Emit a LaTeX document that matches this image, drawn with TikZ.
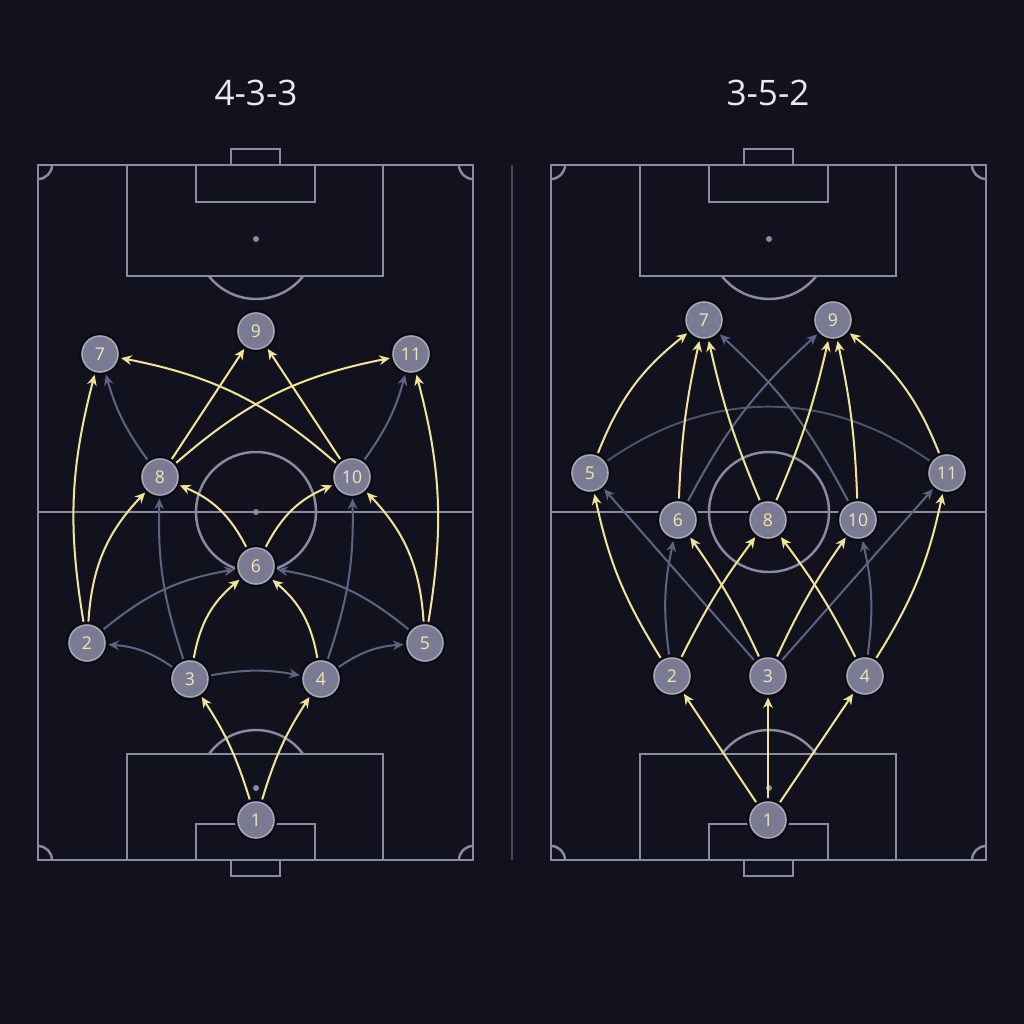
\documentclass[tikz,border=0pt]{standalone}
\usepackage{fontspec}
\setmainfont{Open Sans}
\usetikzlibrary{arrows.meta}

\definecolor{bgdark}{HTML}{12121F}
\definecolor{pitchgray}{HTML}{8A8AA3}
\definecolor{dividergray}{HTML}{4A4A5E}
\definecolor{runyellow}{HTML}{F1E39A}
\definecolor{linkgray}{HTML}{5F6280}
\definecolor{playerfill}{HTML}{7A7B92}
\definecolor{playerring}{HTML}{A9A7B3}
\definecolor{playershadow}{HTML}{0A0A14}
\definecolor{playertext}{HTML}{F2E7B8}
\definecolor{titlewhite}{HTML}{E8E8EE}

\tikzset{
    player/.style={circle, minimum size=0.72cm, inner sep=0pt, outer sep=2pt,
        fill=playerfill, draw=playerring, line width=0.9pt, text=playertext,
        font=\fontsize{10}{12}\selectfont,
        preaction={draw=playershadow, line width=3.5pt}},
    run/.style={-{Stealth[length=6pt,width=5.5pt]}, draw=runyellow, line width=1.15pt},
    link/.style={-{Stealth[length=6pt,width=5.5pt]}, draw=linkgray, line width=1.15pt},
    plainlink/.style={draw=linkgray!80!bgdark, line width=1.1pt},
    pitchline/.style={draw=pitchgray, line width=1.4pt},
    divider/.style={draw=dividergray, line width=0.8pt},
    formation/.style={text=titlewhite, font=\fontsize{20}{24}\selectfont},
}

% one pitch, shifted by #1
\newcommand{\drawpitch}[1]{%
    \begin{scope}[shift={(#1,0)}]
        \draw[pitchline] (38,165) rectangle (473,860);
        \draw[pitchline] (38,512) -- (473,512);
        \draw[pitchline] (256,512) circle[radius=60];
        \fill[pitchgray] (256,512) circle[radius=3];
        % top end
        \draw[pitchline] (127,165) rectangle (383,276);
        \draw[pitchline] (196,165) rectangle (315,202);
        \draw[pitchline] (231,149) rectangle (280,165);
        \fill[pitchgray] (256,239) circle[radius=3];
        \draw[pitchline] (256,239) ++(38:60) arc[start angle=38, end angle=142, radius=60];
        % bottom end
        \draw[pitchline] (127,754) rectangle (383,860);
        \draw[pitchline] (196,824) rectangle (315,860);
        \draw[pitchline] (231,860) rectangle (280,876);
        \fill[pitchgray] (256,788) circle[radius=3];
        \draw[pitchline] (256,788) ++(-36:58) arc[start angle=-36, end angle=-144, radius=58];
        % corners
        \draw[pitchline] (38,165) ++(0:14) arc[start angle=0, end angle=90, radius=14];
        \draw[pitchline] (473,165) ++(90:14) arc[start angle=90, end angle=180, radius=14];
        \draw[pitchline] (38,860) ++(-90:14) arc[start angle=-90, end angle=0, radius=14];
        \draw[pitchline] (473,860) ++(180:14) arc[start angle=180, end angle=270, radius=14];
    \end{scope}}

\begin{document}
\begin{tikzpicture}[x=0.02cm, y=-0.02cm]
    \useasboundingbox (0,0) rectangle (1024,1024);
    \fill[bgdark] (0,0) rectangle (1024,1024);

    % Pitches
    \drawpitch{0}
    \drawpitch{513}
    \draw[divider] (512,165) -- (512,860);

    % Titles
    \node[formation] (t433) at (256,93) {4-3-3};
    \node[formation] (t352) at (768,93) {3-5-2};

    % 4-3-3 players
    \node[player] (l1) at (256,820) {1};
    \node[player] (l2) at (87,643) {2};
    \node[player] (l3) at (190,679) {3};
    \node[player] (l4) at (321,679) {4};
    \node[player] (l5) at (425,643) {5};
    \node[player] (l6) at (256,566) {6};
    \node[player] (l8) at (160,477) {8};
    \node[player] (l10) at (352,477) {10};
    \node[player] (l7) at (100,354) {7};
    \node[player] (l9) at (256,331) {9};
    \node[player] (l11) at (411,354) {11};

    % 3-5-2 players
    \node[player] (r1) at (768,820) {1};
    \node[player] (r2) at (672,676) {2};
    \node[player] (r3) at (768,676) {3};
    \node[player] (r4) at (865,676) {4};
    \node[player] (r5) at (590,473) {5};
    \node[player] (r6) at (678,520) {6};
    \node[player] (r8) at (768,520) {8};
    \node[player] (r10) at (858,520) {10};
    \node[player] (r11) at (947,473) {11};
    \node[player] (r7) at (704,320) {7};
    \node[player] (r9) at (833,320) {9};

    % 4-3-3 links
    \draw[link] (l3) to[bend right=15] (l2);
    \draw[link] (l3) to[bend left=10] (l4);
    \draw[link] (l4) to[bend left=15] (l5);
    \draw[link] (l2) to[bend left=15] (l6);
    \draw[link] (l5) to[bend right=15] (l6);
    \draw[link] (l3) to[bend left=10] (l8);
    \draw[link] (l4) to[bend right=10] (l10);
    \draw[link] (l8) to[bend left=10] (l7);
    \draw[link] (l10) to[bend right=10] (l11);

    % 4-3-3 runs
    \draw[run] (l1) to[bend right=8] (l3);
    \draw[run] (l1) to[bend left=8] (l4);
    \draw[run] (l2) to[bend left=12] (l7);
    \draw[run] (l2) to[bend left=20] (l8);
    \draw[run] (l5) to[bend right=12] (l11);
    \draw[run] (l5) to[bend right=20] (l10);
    \draw[run] (l3) to[bend left=20] (l6);
    \draw[run] (l4) to[bend right=20] (l6);
    \draw[run] (l6) to[bend right=20] (l8);
    \draw[run] (l6) to[bend left=20] (l10);
    \draw[run] (l8) -- (l9);
    \draw[run] (l10) -- (l9);
    \draw[run] (l8) to[bend left=15] (l11);
    \draw[run] (l10) to[bend right=15] (l7);

    % 3-5-2 links
    \draw[plainlink] (r5) to[bend left=35] (r11);
    \draw[link] (r2) to[bend left=10] (r6);
    \draw[link] (r4) to[bend right=10] (r10);
    \draw[link] (r3) -- (r5);
    \draw[link] (r3) -- (r11);
    \draw[link] (r6) to[bend left=10] (r9);
    \draw[link] (r10) to[bend right=10] (r7);

    % 3-5-2 runs
    \draw[run] (r1) -- (r2);
    \draw[run] (r1) -- (r3);
    \draw[run] (r1) -- (r4);
    \draw[run] (r2) to[bend left=10] (r5);
    \draw[run] (r2) to[bend left=5] (r8);
    \draw[run] (r3) to[bend right=5] (r6);
    \draw[run] (r3) to[bend left=5] (r10);
    \draw[run] (r4) to[bend right=5] (r8);
    \draw[run] (r4) to[bend right=10] (r11);
    \draw[run] (r5) to[bend left=15] (r7);
    \draw[run] (r6) to[bend left=5] (r7);
    \draw[run] (r8) to[bend left=5] (r7);
    \draw[run] (r8) to[bend right=5] (r9);
    \draw[run] (r10) to[bend right=5] (r9);
    \draw[run] (r11) to[bend right=15] (r9);

\end{tikzpicture}
\end{document}
